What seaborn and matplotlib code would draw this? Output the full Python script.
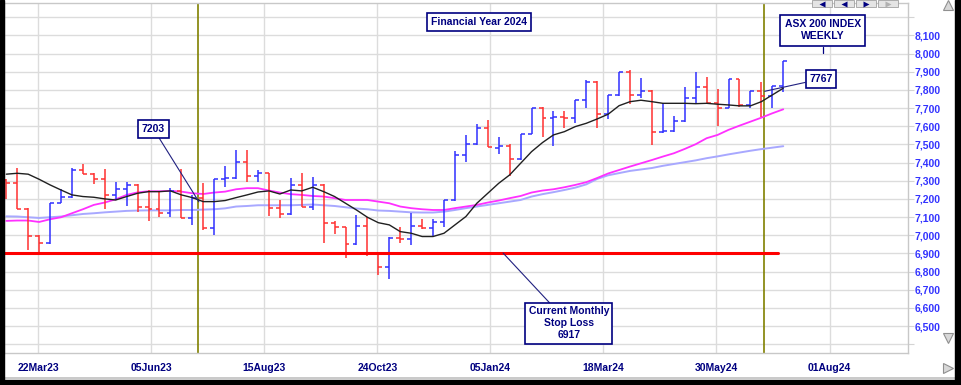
import matplotlib
matplotlib.use("Agg")
import matplotlib.pyplot as plt
from matplotlib.patches import Rectangle
from matplotlib.lines import Line2D
import seaborn as sns
import numpy as np

# Weekly ASX 200 bars, w/e 3 Mar 2023 .. w/e 12 Jul 2024
opens = [7304, 7290, 7143, 6996, 6956, 7180, 7213, 7359, 7336, 7308, 7220, 7253, 7277, 7154, 7143, 7125, 7246, 7097,
         7204, 7038, 7308, 7314, 7402, 7326, 7341, 7148, 7115, 7277, 7154, 7277, 7066, 7044, 6950, 7051, 6901,
         6827, 6985, 6978, 7052, 7038, 7073, 7192, 7440, 7501, 7589, 7482, 7492, 7418, 7558, 7699, 7644, 7653, 7644, 7745,
         7846, 7666, 7769, 7901, 7772, 7794, 7567, 7574, 7629, 7754, 7814, 7726, 7702, 7860, 7714, 7794, 7767, 7822]
highs = [7310, 7369, 7150, 7000, 7180, 7255, 7369, 7392, 7340, 7363, 7295, 7295, 7282, 7249, 7244, 7258, 7363, 7222,
         7286, 7308, 7381, 7470, 7470, 7359, 7345, 7194, 7314, 7345, 7319, 7280, 7081, 7048, 7112, 7099, 6905,
         6989, 7044, 7123, 7088, 7088, 7192, 7466, 7552, 7613, 7635, 7539, 7503, 7558, 7699, 7703, 7681, 7681, 7745, 7855,
         7850, 7769, 7901, 7910, 7868, 7797, 7726, 7658, 7814, 7901, 7873, 7803, 7860, 7862, 7794, 7842, 7824, 7959]
lows = [7198, 7143, 6919, 6901, 6950, 7176, 7205, 7336, 7282, 7143, 7194, 7161, 7130, 7081, 7099, 7099, 7093, 7057,
        7029, 6999, 7264, 7310, 7292, 7295, 7108, 7093, 7110, 7154, 7139, 6959, 7005, 6873, 6948, 6886, 6782,
        6758, 6956, 6948, 7033, 6991, 7044, 7191, 7405, 7498, 7484, 7447, 7326, 7415, 7555, 7543, 7492, 7589, 7616, 7699,
        7592, 7640, 7765, 7721, 7754, 7497, 7562, 7567, 7625, 7726, 7721, 7603, 7700, 7708, 7700, 7653, 7702, 7787]
closes = [7290, 7143, 6996, 6956, 7176, 7212, 7359, 7336, 7308, 7220, 7253, 7277, 7154, 7143, 7125, 7246, 7097, 7204,
          7038, 7308, 7314, 7402, 7326, 7341, 7148, 7115, 7277, 7154, 7277, 7066, 7044, 6950, 7051, 6901, 6827,
          6985, 6978, 7052, 7038, 7073, 7192, 7440, 7501, 7589, 7484, 7490, 7418, 7558, 7699, 7644, 7649, 7644, 7745, 7846,
          7666, 7769, 7901, 7772, 7794, 7567, 7574, 7629, 7754, 7814, 7726, 7702, 7860, 7714, 7794, 7767, 7822, 7959]

ma_black = [7336, 7341, 7336, 7308, 7277, 7249, 7222, 7213, 7209, 7200, 7194, 7213, 7231, 7240, 7240, 7244, 7222, 7207,
            7185, 7185, 7191, 7207, 7222, 7238, 7244, 7227, 7249, 7244, 7264, 7240, 7213, 7176, 7139, 7099, 7069,
            7057, 7020, 7011, 6993, 6993, 7011, 7057, 7103, 7176, 7231, 7286, 7332, 7396, 7460, 7510, 7552, 7570, 7598, 7616,
            7640, 7666, 7713, 7735, 7743, 7735, 7726, 7726, 7726, 7724, 7726, 7721, 7717, 7712, 7712, 7735, 7772, 7809]
ma_magenta = [7079, 7081, 7081, 7073, 7088, 7099, 7121, 7143, 7167, 7180, 7198, 7222, 7236, 7242, 7242, 7244, 7240, 7231,
              7227, 7235, 7240, 7253, 7259, 7259, 7246, 7235, 7226, 7222, 7216, 7213, 7204, 7194, 7194, 7194, 7185,
              7176, 7158, 7149, 7143, 7139, 7139, 7149, 7158, 7167, 7180, 7191, 7204, 7216, 7235, 7246, 7253, 7264, 7277, 7292,
              7315, 7340, 7359, 7378, 7396, 7414, 7433, 7451, 7475, 7501, 7534, 7552, 7580, 7603, 7625, 7647, 7671, 7693]
ma_lavender = [7104, 7103, 7099, 7095, 7099, 7103, 7110, 7117, 7121, 7126, 7130, 7134, 7136, 7137, 7137, 7137, 7139, 7139,
               7141, 7143, 7148, 7158, 7161, 7165, 7165, 7165, 7165, 7167, 7169, 7165, 7161, 7154, 7147, 7143, 7136,
               7134, 7130, 7126, 7125, 7125, 7130, 7139, 7149, 7158, 7167, 7176, 7185, 7194, 7213, 7226, 7237, 7249, 7262, 7280,
               7310, 7330, 7342, 7354, 7362, 7370, 7382, 7392, 7402, 7412, 7424, 7434, 7445, 7455, 7465, 7474, 7482, 7490]

date_labels = ["22Mar23", "05Jun23", "15Aug23", "24Oct23", "05Jan24", "18Mar24", "30May24", "01Aug24"]
stop_loss = 6902
fy_close_prev = 7203
fy_close_now = 7767

sns.set_style("white")
plt.rcParams["font.family"] = ["Liberation Sans", "DejaVu Sans"]

W, H = 961, 385
fig = plt.figure(figsize=(W / 100, H / 100), dpi=100)
ax = fig.add_axes([4 / W, 32 / H, 904 / W, 350 / H])

x = np.arange(len(closes))
o, h, l, c = map(np.array, (opens, highs, lows, closes))
up = c >= o
cols = np.where(up, "#3030ff", "#ff3030")

ax.set_xlim(-0.21, 82.4)
ax.set_ylim(6352, 8278)

xticks = [2.92 + 10.33 * k for k in range(len(date_labels))]
yticks = list(range(6400, 8300, 100))
ax.set_xticks(xticks)
ax.set_xticklabels(date_labels)
ax.set_yticks(yticks)
ax.set_yticklabels([f"{v:,}" if 6500 <= v <= 8100 else "" for v in yticks])
ax.yaxis.tick_right()
ax.grid(True, color="#dcdcdc", lw=1.0)
ax.set_axisbelow(True)
for s in ax.spines.values():
    s.set_color("#c8c8c8")
    s.set_linewidth(1.0)
ax.tick_params(axis="y", length=4.5, color="#d4d4d4", pad=0.5, labelsize=7.5, labelcolor="#3333ff")
ax.tick_params(axis="x", length=0, pad=7, labelsize=7.5, labelcolor="#000080")
for t in ax.get_xticklabels() + ax.get_yticklabels():
    t.set_fontweight("bold")

# financial-year boundaries
for fx in (17.55, 69.27):
    ax.axvline(fx, color="#808000", lw=1.2, zorder=2)

# moving averages
sns.lineplot(x=x, y=ma_lavender, ax=ax, color="#a8a8ff", lw=1.4, zorder=3)
sns.lineplot(x=x, y=ma_magenta, ax=ax, color="#ff30ff", lw=1.3, zorder=3)

# OHLC bars
w = 0.36
ax.vlines(x, l, h, colors=cols, lw=1.1, zorder=4)
ax.hlines(o, x - w, x, colors=cols, lw=1.1, zorder=4)
ax.hlines(c, x, x + w, colors=cols, lw=1.1, zorder=4)

sns.lineplot(x=x, y=ma_black, ax=ax, color="#202020", lw=1.0, zorder=5)

# stop loss line
ax.plot([-0.21, 70.5], [stop_loss, stop_loss], color="#ff0000", lw=2.2, zorder=5)

navy = "#000080"
box = dict(boxstyle="square,pad=0.35", fc="white", ec=navy, lw=1.2)
conn = dict(arrowstyle="-", color="#202080", lw=0.8, shrinkA=0, shrinkB=0)
tkw = dict(fontsize=7.5, fontweight="bold", color=navy, ha="center", va="center",
           linespacing=1.25, zorder=6)

ax.text(43.2, 8174, "Financial Year 2024", bbox=box, **tkw)
ax.plot([74.6, 74.6], [8003, 8036], color=navy, lw=0.9, zorder=6)
ax.text(74.6, 8127, "ASX 200 INDEX\nWEEKLY", bbox=dict(boxstyle="square,pad=0.45", fc="white", ec=navy, lw=1.2), **tkw)
ax.annotate(f"{fy_close_now}", xy=(69.3, 7792), xytext=(74.45, 7860), bbox=box, arrowprops=conn, **tkw)
ax.annotate(f"{fy_close_prev}", xy=(17.6, 7184), xytext=(13.45, 7585), bbox=box, arrowprops=conn, **tkw)
ax.annotate(f"Current Monthly\nStop Loss\n{stop_loss + 15}", xy=(45.4, 6902), xytext=(51.4, 6515),
            bbox=dict(boxstyle="square,pad=0.3", fc="white", ec=navy, lw=1.2), arrowprops=conn, **tkw)

# window chrome
fig.add_artist(Rectangle((0, 0), 4 / W, 1, transform=fig.transFigure, color="black", zorder=10))
fig.add_artist(Rectangle((955 / W, 0), 6 / W, 1, transform=fig.transFigure, color="black", zorder=10))
fig.add_artist(Rectangle((0, 0), 1, 5 / H, transform=fig.transFigure, color="black", zorder=10))
fig.add_artist(Line2D([0, 1], [7.5 / H, 7.5 / H], transform=fig.transFigure, color="#c0c0c0", lw=1.2))
for mx, my, mk in ((948, 380, "^"), (948, 47, "v"), (948, 17, ">")):
    fig.add_artist(Line2D([mx / W], [my / H], transform=fig.transFigure, marker=mk, ms=7,
                          mfc="#d8d8d8", mec="#909090", mew=0.8, ls="none"))
# navigation buttons along the top edge
for i, mk in enumerate(["<", "<", ">", ">"]):
    bx = 812 + i * 22
    fig.add_artist(Rectangle((bx / W, (H - 7) / H), 20 / W, 7 / H, transform=fig.transFigure,
                             fc="#e4e4e4", ec="#a0a0a0", lw=0.6, zorder=10))
    fig.add_artist(Line2D([(bx + 10) / W], [(H - 3.5) / H], transform=fig.transFigure, marker=mk, ms=4.5,
                          mfc=navy if i < 3 else "#b0b0b0", mec="none", ls="none", zorder=11))

fig.savefig("out.png", dpi=100)
